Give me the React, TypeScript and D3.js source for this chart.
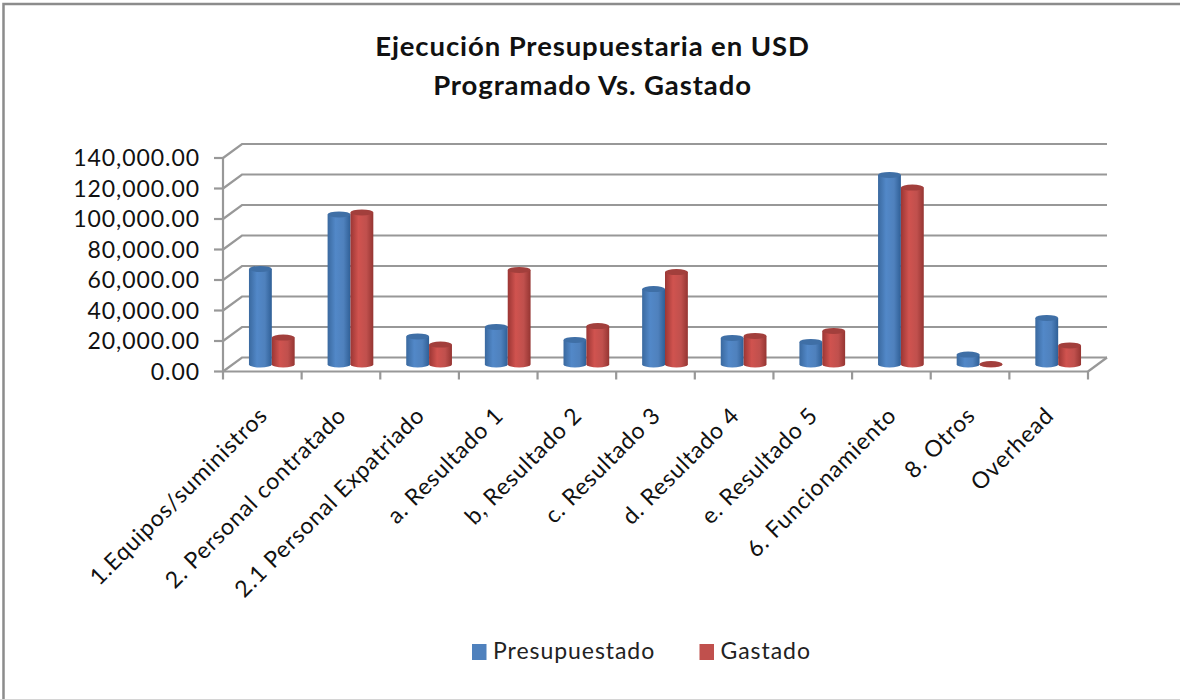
import React from "react";
import * as d3 from "d3";

const categories = [
  "1.Equipos/suministros",
  "2. Personal contratado",
  "2.1 Personal Expatriado",
  "a. Resultado 1",
  "b, Resultado 2",
  "c. Resultado 3",
  "d. Resultado 4",
  "e. Resultado 5",
  "6. Funcionamiento",
  "8. Otros",
  "Overhead",
];
const presupuestado = [62700, 98400, 18400, 24600, 16100, 49500, 17400, 14800, 124300, 6500, 30500];
const gastado = [17700, 99700, 13100, 62000, 25200, 60600, 18700, 22000, 116000, 300, 12500];
const yTicks = [0, 20000, 40000, 60000, 80000, 100000, 120000, 140000];
const seriesNames = ["Presupuestado", "Gastado"];
const titleLines = ["Ejecución Presupuestaria en USD", "Programado Vs. Gastado"];

const FONT = "Lato, 'Open Sans', sans-serif";
const GRID = "#989898";
const BLUE = ["#3a699f", "#5288c8", "#4f81bd", "#3f6fa6", "#2f5f96"];
const RED = ["#9b3634", "#d0534f", "#c0504d", "#a23f3c", "#953532"];

// 3D box: front wall corner to back wall corner
const front = { left: 223, right: 1088, bottom: 371.5, top: 158 };
const depth = { x: 19, y: -14 };

function Cylinder({ cx, w, base, top, id }: { cx: number; w: number; base: number; top: number; id: string }) {
  const rx = w / 2;
  const ry = 3;
  const i = id === "b" ? BLUE : RED;
  return (
    <g>
      <path
        d={`M${cx - rx},${top} L${cx - rx},${base} A${rx},${ry} 0 0 0 ${cx + rx},${base} L${cx + rx},${top} Z`}
        fill={`url(#cyl-${id})`}
      />
      <ellipse cx={cx} cy={top} rx={rx} ry={ry} fill={i[3]} />
    </g>
  );
}

export default function App() {
  const y = d3.scaleLinear().domain([0, 140000]).range([front.bottom, front.top]);
  const x = d3.scaleBand<string>().domain(categories).range([front.left, front.right]);
  const inner = d3.scaleBand<string>().domain(seriesNames).range([0, x.bandwidth()]).paddingInner(0).paddingOuter(0.72);
  const fmt = d3.format(",.2f");
  // bars stand about halfway into the floor
  const barDx = 9.5;
  const barY = (v: number) => y(v) - 7;

  return (
    <svg width={1180} height={700} style={{ position: "absolute", left: 0, top: 0, background: "#fff" }} fontFamily={FONT}>
      <defs>
        {[["b", BLUE], ["r", RED]].map(([id, c]) => (
          <linearGradient key={id as string} id={`cyl-${id}`} x1="0" x2="1" y1="0" y2="0">
            <stop offset="0" stopColor={(c as string[])[0]} />
            <stop offset="0.35" stopColor={(c as string[])[1]} />
            <stop offset="0.7" stopColor={(c as string[])[2]} />
            <stop offset="1" stopColor={(c as string[])[4]} />
          </linearGradient>
        ))}
      </defs>
      {/* picture frame */}
      <path d="M3.5,700 L3.5,4 L1180,4" fill="none" stroke="#8c8c8c" strokeWidth={2.5} />
      <line x1={0} x2={1180} y1={699.5} y2={699.5} stroke="#d4d4d4" strokeWidth={1} />

      {titleLines.map((t, i) => (
        <text key={t} x={592.5} y={56 + i * 38.5} textAnchor="middle" fontSize={27.5} fontWeight={700} letterSpacing={0.9} fill="#111">
          {t}
        </text>
      ))}

      {/* walls */}
      {yTicks.map((t) => (
        <g key={t} stroke={GRID} strokeWidth={2.2} fill="none">
          <path d={`M${front.left},${y(t)} L${front.left + depth.x},${y(t) + depth.y} L${front.right + depth.x},${y(t) + depth.y}`} />
          <line x1={front.left - 9} x2={front.left} y1={y(t)} y2={y(t)} />
        </g>
      ))}
      <g stroke={GRID} strokeWidth={2.2} fill="none">
        <line x1={front.left} x2={front.left} y1={front.top} y2={front.bottom + 8} />
        <line x1={front.left} x2={front.right} y1={front.bottom} y2={front.bottom} />
        <line x1={front.right} x2={front.right + depth.x} y1={front.bottom} y2={front.bottom + depth.y} />
        {categories.map((c) => (
          <line key={c} x1={(x(c) as number) + x.bandwidth()} x2={(x(c) as number) + x.bandwidth()} y1={front.bottom} y2={front.bottom + 8} />
        ))}
      </g>

      {yTicks.map((t) => (
        <text key={t} x={front.left - 23} y={y(t) + 8} textAnchor="end" fontSize={23} letterSpacing={0.95} fill="#111">
          {fmt(t)}
        </text>
      ))}

      {/* bars */}
      {categories.map((c, i) => {
        const x0 = x(c) as number;
        const w = inner.bandwidth();
        return (
          <g key={c}>
            <Cylinder id="b" cx={x0 + barDx + (inner("Presupuestado") as number) + w / 2} w={w} base={barY(0)} top={barY(presupuestado[i])} />
            <Cylinder id="r" cx={x0 + barDx + (inner("Gastado") as number) + w / 2} w={w} base={barY(0)} top={barY(gastado[i])} />
          </g>
        );
      })}

      {/* category labels */}
      {categories.map((c) => {
        const cx = (x(c) as number) + x.bandwidth() / 2 + 6.5;
        return (
          <text key={c} transform={`translate(${cx},${front.bottom + 45.5}) rotate(-45)`} textAnchor="end" fontSize={23} letterSpacing={0.8} fill="#111">
            {c}
          </text>
        );
      })}

      {/* legend */}
      {seriesNames.map((s, i) => {
        const lx = [472, 699.5][i];
        return (
          <g key={s}>
            <rect x={lx} y={644} width={14.5} height={16} fill={i === 0 ? BLUE[2] : RED[2]} />
            <text x={lx + 21} y={659} fontSize={23} letterSpacing={0.95} fill="#222">
              {s}
            </text>
          </g>
        );
      })}
    </svg>
  );
}
